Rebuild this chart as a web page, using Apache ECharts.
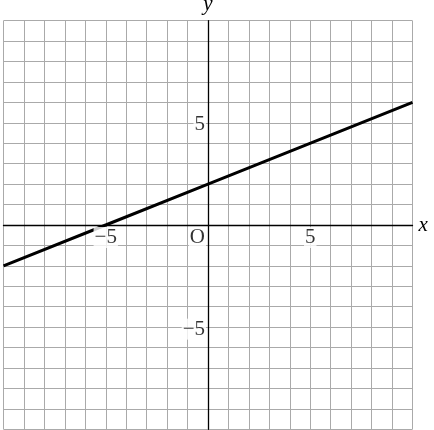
<!DOCTYPE html>
<html><head><meta charset="utf-8">
<script src="https://cdn.jsdelivr.net/npm/echarts@6/dist/echarts.min.js"></script>
<style>html,body{margin:0;padding:0;background:#fff}#c{width:434px;height:430px}</style>
</head><body><div id="c"></div>
<script>
var lineX = [-10, -5, 0, 10];
var lineY = [-2, 0, 2, 6];
var xTickLabels = [[-5, '−5'], [5, '5']];
var yTickLabels = [[5, '5'], [-5, '−5']];
var originLabel = 'O';

var FONT = 'Liberation Serif';
var chart = echarts.init(document.getElementById('c'));
var labelBase = {show: true, fontFamily: FONT, fontSize: 21, color: '#000', backgroundColor: '#fff', padding: [0, 1, 0, 1], lineHeight: 21};
chart.setOption({
  animation: false,
  grid: {left: 3.5, right: 21.5, top: 20.7, bottom: 0.7, containLabel: false, outerBoundsMode: 'none'},
  xAxis: {type: 'value', min: -10, max: 10, interval: 1,
    axisLine: {onZero: true, lineStyle: {color: '#000', width: 1.3}},
    axisTick: {show: false}, axisLabel: {show: false},
    splitLine: {show: true, lineStyle: {color: '#aaaaaa', width: 1}},
    name: 'x', nameLocation: 'end', nameGap: 6,
    nameTextStyle: {fontFamily: FONT, fontStyle: 'italic', fontSize: 21, color: '#000', verticalAlign: 'middle'}
  },
  yAxis: {type: 'value', min: -10, max: 10, interval: 1,
    axisLine: {onZero: true, lineStyle: {color: '#000', width: 1.3}},
    axisTick: {show: false}, axisLabel: {show: false},
    splitLine: {show: true, lineStyle: {color: '#aaaaaa', width: 1}},
    name: 'y', nameLocation: 'end', nameGap: 6,
    nameTextStyle: {fontFamily: FONT, fontStyle: 'italic', fontSize: 21, color: '#000', align: 'center'}
  },
  series: [
    {type: 'line', data: lineX.map(function (x, i) { return [x, lineY[i]]; }), symbol: 'none',
     lineStyle: {color: '#000', width: 3}, z: 3},
    {type: 'scatter', symbolSize: 0, z: 5,
     data: xTickLabels.map(function (d) { return {value: [d[0], 0], label: {formatter: d[1]}}; }),
     label: Object.assign({}, labelBase, {position: 'bottom', distance: 2})},
    {type: 'scatter', symbolSize: 0, z: 5,
     data: yTickLabels.map(function (d) { return {value: [0, d[0]], label: {formatter: d[1]}}; }),
     label: Object.assign({}, labelBase, {position: 'left', distance: 2, offset: [0, 2]})},
    {type: 'scatter', symbolSize: 0, z: 5,
     data: [{value: [0, 0], label: {formatter: originLabel}}],
     label: Object.assign({}, labelBase, {position: 'bottom', distance: 2, align: 'right', offset: [-2, 0]})}
  ]
});
</script></body></html>
